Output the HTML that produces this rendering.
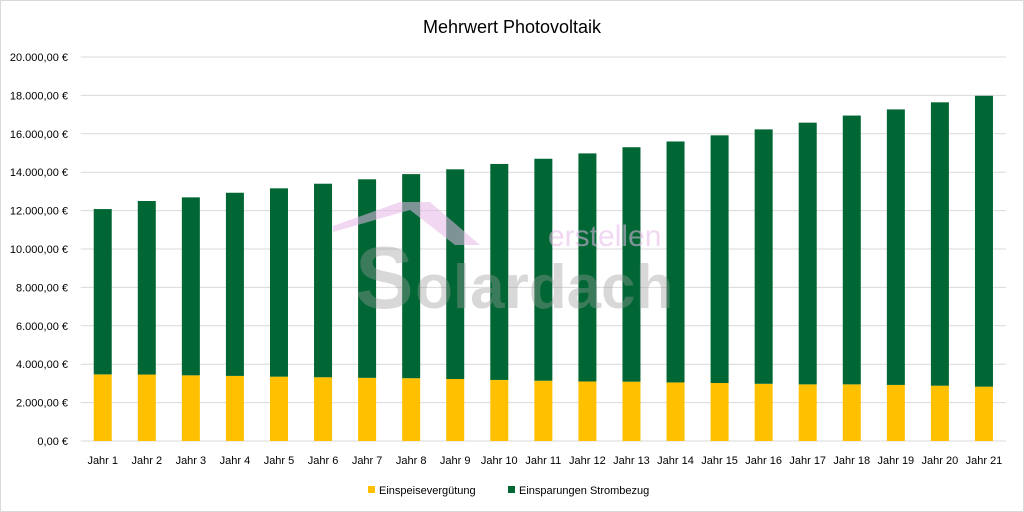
<!DOCTYPE html>
<html><head><meta charset="utf-8"><style>
html,body{margin:0;padding:0;background:#fff;}
svg{display:block;font-family:"Liberation Sans",sans-serif;}
</style></head><body>
<svg id="chart" width="1024" height="512" viewBox="0 0 1024 512">
<rect x="0.5" y="0.5" width="1023" height="511" fill="#fff" stroke="#d9d9d9"/>
<text x="512" y="33" text-anchor="middle" font-size="18" fill="#000">Mehrwert Photovoltaik</text>
<g id="grid"></g>
<g id="bars"></g>
<g opacity="0.55">
<polygon points="333,226 400,202 430,202 480,245 455,245 410,210 333,232" fill="#e6b8e6"/>
<text x="355" y="308" font-size="88" font-weight="bold" fill="#9a9a9a" opacity="0.7">S</text>
<text x="415" y="308" font-size="62" font-weight="bold" fill="#9a9a9a" opacity="0.7">olardach</text>
<text x="548" y="246" font-size="30" fill="#e6b8e6">erstellen</text>
</g>
<g id="yaxis"></g>
<g id="xaxis"></g>
<g>
<rect x="368" y="486" width="7" height="7" fill="#ffc000"/>
<text x="379" y="494" font-size="11" fill="#000">Einspeisevergütung</text>
<rect x="508" y="486" width="7" height="7" fill="#006633"/>
<text x="519" y="494" font-size="11" fill="#000">Einsparungen Strombezug</text>
</g>
</svg>
<script>
const categories = ["Jahr 1","Jahr 2","Jahr 3","Jahr 4","Jahr 5","Jahr 6","Jahr 7","Jahr 8","Jahr 9","Jahr 10","Jahr 11","Jahr 12","Jahr 13","Jahr 14","Jahr 15","Jahr 16","Jahr 17","Jahr 18","Jahr 19","Jahr 20","Jahr 21"];
const einspeise = [3470,3460,3420,3390,3350,3320,3290,3270,3230,3180,3140,3100,3090,3050,3020,2980,2950,2950,2920,2880,2830];
const strombezug = [8610,9040,9270,9540,9810,10080,10340,10630,10920,11250,11560,11880,12210,12550,12900,13250,13630,14000,14350,14760,15150];
const yTicks = [0,2000,4000,6000,8000,10000,12000,14000,16000,18000,20000];
const yTickLabels = ["0,00 €","2.000,00 €","4.000,00 €","6.000,00 €","8.000,00 €","10.000,00 €","12.000,00 €","14.000,00 €","16.000,00 €","18.000,00 €","20.000,00 €"];

const NS="http://www.w3.org/2000/svg";
const plotL=80.7, plotR=1006, y0=441, yTop=57, yMax=20000;
const band=(plotR-plotL)/categories.length, barW=18;
function yScale(v){return y0-(v/yMax)*(y0-yTop);}
function xCenter(i){return plotL+band*(i+0.5);}
function mk(tag,attrs,parent){const e=document.createElementNS(NS,tag);for(const k in attrs)e.setAttribute(k,attrs[k]);parent.appendChild(e);return e;}

const grid=document.getElementById('grid'), yaxis=document.getElementById('yaxis'), xaxis=document.getElementById('xaxis'), bars=document.getElementById('bars');
yTicks.forEach((t,i)=>{
  const y=yScale(t);
  const l=mk('line',{x1:plotL,x2:plotR,y1:y,y2:y,stroke:'#d9d9d9','stroke-width':1},grid);
  
  
  const tx=mk('text',{x:68,y:y+4,'text-anchor':'end','font-size':11,fill:'#000'},yaxis);
  tx.textContent=yTickLabels[i];
  
  
});
categories.forEach((c,i)=>{
  const cx=xCenter(i);
  const yY=yScale(einspeise[i]);
  const r1=mk('rect',{x:cx-barW/2,y:yY,width:barW,height:y0-yY,fill:'#ffc000'},bars);
  
  
  const yG=yScale(einspeise[i]+strombezug[i]);
  const r2=mk('rect',{x:cx-barW/2,y:yG,width:barW,height:yY-yG,fill:'#006633'},bars);
  
  
  const tx=mk('text',{x:cx,y:464,'text-anchor':'middle','font-size':11,fill:'#000'},xaxis);
  tx.textContent=c;
  
  
});
</script>
</body></html>
